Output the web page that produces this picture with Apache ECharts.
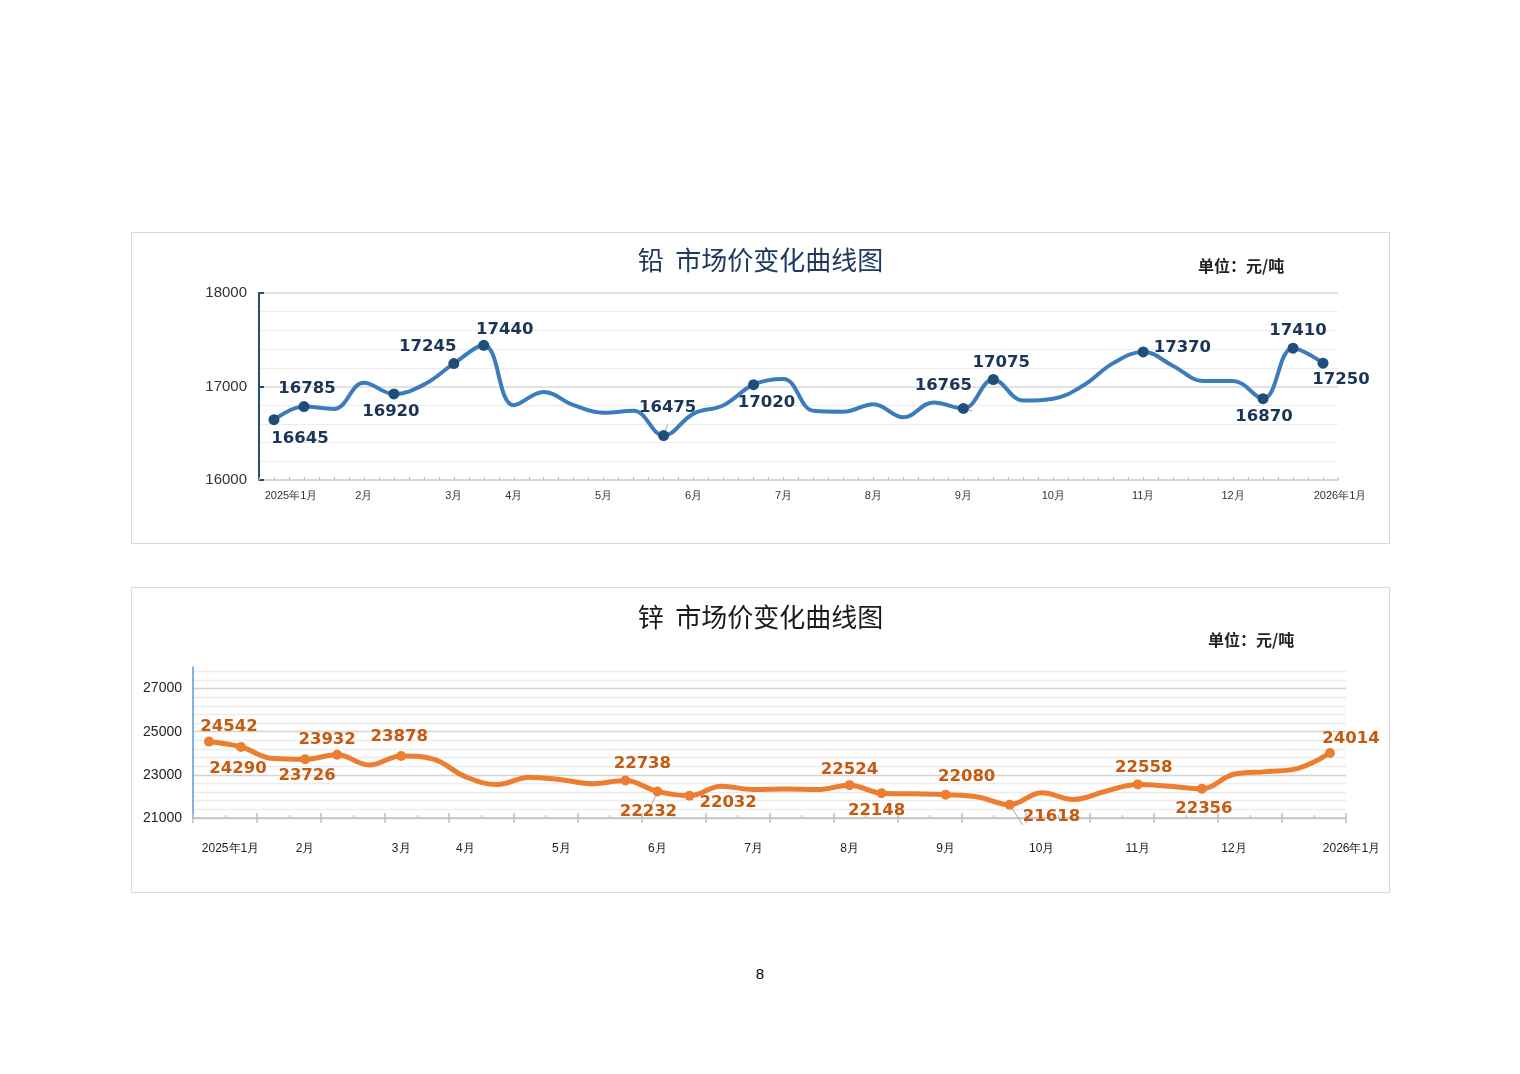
<!DOCTYPE html>
<html><head><meta charset="utf-8">
<script src="https://cdn.jsdelivr.net/npm/echarts@6/dist/echarts.min.js"></script>
<style>
html,body{margin:0;padding:0;background:#fff;width:1520px;height:1074px;overflow:hidden;}
.box{position:absolute;border:1px solid #d9d9d9;box-sizing:border-box;background:#fff;}
#lead{left:131px;top:232px;width:1259px;height:312px;}
#zinc{left:131px;top:587px;width:1259px;height:306px;}
#page{position:absolute;left:0;width:1520px;top:965px;text-align:center;font:15px "Liberation Sans",Arial,sans-serif;color:#000;}
</style>
</head><body>
<div id="lead" class="box"></div>
<div id="zinc" class="box"></div>
<div id="page">8</div>
<script>
// ---- data ----
const categories = Array.from({length: 36}, (_, i) => 'p' + i);
const monthTickIdx = [0, 3, 6, 8, 11, 14, 17, 20, 23, 26, 29, 32, 35];
const monthNames = ['2025年1月','2月','3月','4月','5月','6月','7月','8月','9月','10月','11月','12月','2026年1月'];

const leadValues = [16645,16785,16760,17040,16920,17020,17245,17440,16800,16940,
                    16800,16720,16740,16475,16710,16800,17020,17080,16740,16730,
                    16810,16670,16830,16765,17075,16850,16870,17010,17250,17370,
                    17220,17060,17060,16870,17410,17250];
const leadMarked = [0,1,4,6,7,13,16,23,24,29,33,34,35];

const zincValues = [24542,24290,23760,23726,23932,23460,23878,23730,22920,22550,
                    22890,22770,22590,22738,22232,22032,22470,22320,22350,22320,
                    22524,22148,22120,22080,21970,21618,22170,21860,22240,22558,
                    22470,22356,23030,23150,23300,24014];
const zincMarked = [0,1,3,4,6,13,14,15,20,21,23,25,29,31,35];

const leadYTicks = {min: 16000, max: 18000, step: 1000};
const zincYTicks = {min: 21000, max: 28000, step: 1000};

// ---- label placement (style config) ----
const leadPlace = [['bottom',26,0],['top',3,1],['bottom',-3,-1],['top',-26,2],['top',21,3],
  ['top',4,-9,1],['bottom',13,-1],['top',-20,-4,1],['top',8,2],['right',0,-4],
  ['bottom',1,-1],['top',5,2],['bottom',18,-2]];
const zincPlace = [['top',20,4],['bottom',-3,3],['bottom',2,-2],['top',-10,3],['top',-2,-1,1],
  ['top',17,2],['bottom',-9,2,1],['right',0,7],['top',0,3],['bottom',-5,-1],
  ['top',21,1],['right',3,12,1],['top',6,2],['bottom',2,1],['top',21,4]];

function buildData(values, marked, place) {
  return values.map((v, i) => {
    const k = marked.indexOf(i);
    if (k < 0) return {value: v, symbol: 'none', label: {show: false}};
    const p = place[k];
    const item = {value: v, label: {show: true, position: p[0], offset: [p[1], p[2]]}};
    if (p[3]) item.labelLine = {show: true, lineStyle: {color: '#a6a6a6', width: 1}};
    return item;
  });
}

function monthFormatter(size, color) {
  return {
    interval: 0,
    formatter: (val, idx) => {
      const k = monthTickIdx.indexOf(idx);
      if (k < 0) return '';
      if (idx === 0 || idx === categories.length - 1) return '{e|' + monthNames[k] + '}';
      return monthNames[k];
    },
    rich: {e: {padding: [0, 0, 0, size === 11 ? 34 : 43], fontSize: size, color: color, fontFamily: 'Liberation Sans'}}
  };
}

// ---- lead chart ----
const lead = echarts.init(document.getElementById('lead'), null, {renderer: 'canvas'});
const leadLabelFmt = monthFormatter(11, '#333');
lead.setOption({
  animation: false,
  title: [
    {text: '铅  市场价变化曲线图', left: 'center', top: 9,
     textStyle: {fontSize: 26, fontWeight: 'normal', color: '#1f3a60', fontFamily: 'Noto Sans CJK SC'}},
    {text: '单位：元/吨', left: 1061, top: 20,
     textStyle: {fontSize: 16, fontWeight: 'bold', color: '#222', fontFamily: 'Noto Sans CJK SC'}}
  ],
  grid: {left: 127, right: 51, top: 60, bottom: 63},
  xAxis: [
    {type: 'category', data: categories, boundaryGap: true,
     axisLine: {lineStyle: {color: '#d0d0d0', width: 1.5}},
     axisTick: {show: false},
     axisLabel: Object.assign({fontSize: 11, color: '#333', margin: 10, fontFamily: 'Liberation Sans'}, leadLabelFmt),
     splitLine: {show: false}},
    {type: 'value', min: 0, max: 36, interval: 0.5, position: 'bottom',
     axisLine: {show: false}, axisLabel: {show: false}, splitLine: {show: false},
     axisTick: {show: true, inside: true, length: 3, lineStyle: {color: '#bfbfbf'}}}
  ],
  yAxis: {
    type: 'value', min: leadYTicks.min, max: leadYTicks.max, interval: leadYTicks.step,
    axisLine: {show: true, lineStyle: {color: '#1f4e79', width: 2}},
    axisTick: {show: true, inside: true, length: 5, lineStyle: {color: '#1f4e79', width: 2}},
    minorTick: {show: false, splitNumber: 5},
    axisLabel: {fontSize: 15, color: '#333', margin: 12, fontFamily: 'Liberation Sans', formatter: v => String(v)},
    splitLine: {show: true, lineStyle: {color: '#d9d9d9', width: 1.5}},
    minorSplitLine: {show: true, lineStyle: {color: '#ececec', width: 1}}
  },
  series: [{
    type: 'line', data: buildData(leadValues, leadMarked, leadPlace),
    smooth: 0.4, showSymbol: true, showAllSymbol: true,
    symbol: 'circle', symbolSize: 11,
    lineStyle: {color: '#3d7cbc', width: 4},
    itemStyle: {color: '#1f4e79'},
    label: {fontSize: 16.5, fontWeight: 'bold', color: '#1a3556', fontFamily: 'DejaVu Sans'},
    emphasis: {disabled: true}
  }]
});

// ---- zinc chart ----
const zinc = echarts.init(document.getElementById('zinc'), null, {renderer: 'canvas'});
const zincLabelFmt = monthFormatter(12, '#222');
const gridCount = (zincYTicks.max - zincYTicks.min) / 400; // 17.5 gridline steps
const gridColors = [];
for (let i = 0; i <= Math.ceil(gridCount); i++) {
  gridColors.push(i > gridCount - 0.01 && i !== gridCount ? 'rgba(0,0,0,0)' : (i % 5 === 0 ? '#d4d4d4' : '#ececec'));
}
zinc.setOption({
  animation: false,
  title: [
    {text: '锌  市场价变化曲线图', left: 'center', top: 11,
     textStyle: {fontSize: 26, fontWeight: 'normal', color: '#1a1a1a', fontFamily: 'Noto Sans CJK SC'}},
    {text: '单位：元/吨', left: 1071, top: 39,
     textStyle: {fontSize: 16, fontWeight: 'bold', color: '#222', fontFamily: 'Noto Sans CJK SC'}}
  ],
  grid: {left: 61, right: 43, top: 79, bottom: 74},
  xAxis: [
    {type: 'category', data: categories, boundaryGap: true,
     axisLine: {lineStyle: {color: '#c0c0c0', width: 1.5}},
     axisTick: {show: false},
     axisLabel: Object.assign({fontSize: 12, color: '#222', margin: 25, fontFamily: 'Liberation Sans'}, zincLabelFmt),
     splitLine: {show: false}},
    {type: 'value', min: 0, max: 36, interval: 2, position: 'bottom',
     axisLine: {show: false}, axisLabel: {show: false}, splitLine: {show: false},
     axisTick: {show: true, inside: true, length: 5, lineStyle: {color: '#bfbfbf', width: 1.5}},
     minorTick: {show: true, splitNumber: 2, length: 3, lineStyle: {color: '#bfbfbf'}}},
    {type: 'value', min: 0, max: 36, interval: 2, position: 'bottom',
     axisLine: {show: false}, axisLabel: {show: false}, splitLine: {show: false},
     axisTick: {show: true, inside: false, length: 5, lineStyle: {color: '#bfbfbf', width: 1.5}}}
  ],
  yAxis: [
    {type: 'value', min: zincYTicks.min, max: zincYTicks.max, interval: zincYTicks.step,
     axisLine: {show: true, lineStyle: {color: '#5b9bd5', width: 1.5}},
     axisTick: {show: false},
     axisLabel: {fontSize: 14, color: '#222', margin: 11, fontFamily: 'Liberation Sans',
       formatter: v => (v < zincYTicks.max && ((v - zincYTicks.min) / 1000) % 2 === 0) ? String(v) : ''},
     splitLine: {show: false}},
    {type: 'value', min: 0, max: gridCount, interval: 1,
     axisLine: {show: false}, axisTick: {show: false}, axisLabel: {show: false},
     splitLine: {show: true, lineStyle: {color: gridColors, width: 1.3}}}
  ],
  series: [{
    type: 'line', data: buildData(zincValues, zincMarked, zincPlace),
    yAxisIndex: 0, xAxisIndex: 0,
    smooth: 0.4, showSymbol: true, showAllSymbol: true,
    symbol: 'circle', symbolSize: 10,
    lineStyle: {color: '#ed7d31', width: 5},
    itemStyle: {color: '#ed7d31'},
    label: {fontSize: 16.5, fontWeight: 'bold', color: '#c55a11', fontFamily: 'DejaVu Sans'},
    emphasis: {disabled: true}
  }]
});
</script>
</body></html>
